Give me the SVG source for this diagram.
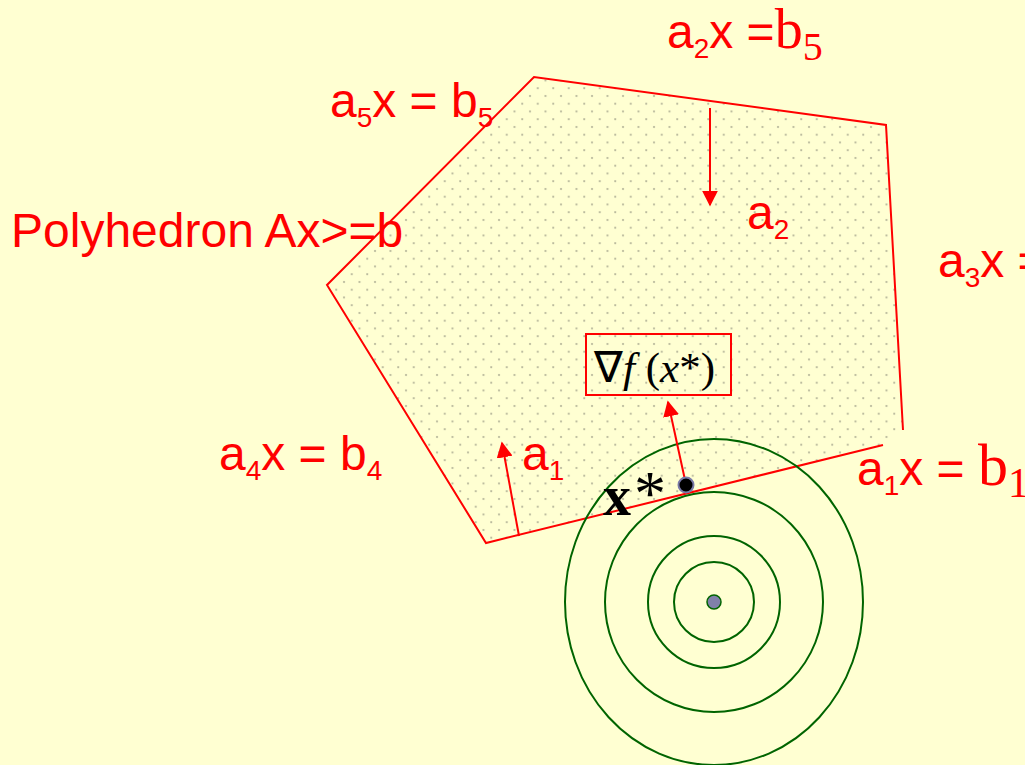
<svg xmlns="http://www.w3.org/2000/svg" width="1025" height="765" viewBox="0 0 1025 765">
<defs>
<pattern id="dots" patternUnits="userSpaceOnUse" width="15.5" height="15.5">
<circle cx="3" cy="3" r="1.1" fill="#b4b498"/>
<circle cx="10.75" cy="10.75" r="1.1" fill="#b4b498"/>
</pattern>
<marker id="ah" viewBox="0 0 10 10" refX="9" refY="5" markerWidth="16" markerHeight="16" markerUnits="userSpaceOnUse" orient="auto">
<path d="M0,0 L10,5 L0,10 z" fill="#ff0000"/>
</marker>
<style>
.lbl{font-family:"Liberation Sans",Arial,sans-serif;font-size:48px;fill:#ff0000}
.ser{font-family:"Liberation Serif","Times New Roman",serif;fill:#ff0000}
.sub{font-size:28px}
.edge{stroke:#ff0000;stroke-width:2;fill:none}
.ring{stroke:#006400;stroke-width:2;fill:none}
.vec{stroke:#ff0000;stroke-width:2;fill:none;marker-end:url(#ah)}
</style>
</defs>
<rect width="1025" height="765" fill="#ffffd2"/>
<g id="polyhedron">
<polygon points="534,77 886,125 903,430 883,445 486,543 327,285" fill="url(#dots)" stroke="none"/>
<polyline class="edge" points="903,430 886,125 534,77 327,285 486,543 883,445"/>
</g>
<g id="contours">
<ellipse class="ring" cx="714" cy="602" rx="149" ry="163"/>
<ellipse class="ring" cx="714" cy="602" rx="109" ry="110"/>
<circle class="ring" cx="714" cy="602" r="66"/>
<circle class="ring" cx="714" cy="602" r="40"/>
<circle cx="714" cy="602" r="7" fill="#8080aa" stroke="#006400" stroke-width="1.5"/>
</g>
<g id="connectors">
<line class="vec" x1="710" y1="108" x2="710" y2="205"/>
<line class="vec" x1="519" y1="536" x2="502" y2="443"/>
<line class="vec" x1="685" y1="480" x2="668" y2="402"/>
</g>
<g id="xstar">
<circle cx="686" cy="485" r="7.5" fill="#000000" stroke="#7a7aa8" stroke-width="2"/>
<text x="603" y="515" font-family="'Liberation Serif','Times New Roman',serif" font-size="56" fill="#000000"><tspan font-weight="bold">x</tspan><tspan dx="3" font-size="64">*</tspan></text>
</g>
<g id="gradient-box">
<rect x="586" y="334" width="145" height="61" fill="none" stroke="#ff0000" stroke-width="2"/>
<text x="594" y="382" font-family="'Liberation Serif','Times New Roman',serif" font-size="43" fill="#000000">∇<tspan font-style="italic">f</tspan> (<tspan font-style="italic">x</tspan>*)</text>
</g>
<g id="labels">
<text class="lbl" x="667" y="48">a<tspan class="sub" dy="10">2</tspan><tspan dy="-10">x =</tspan><tspan class="ser" font-size="56">b</tspan><tspan class="ser" font-size="40" dy="12">5</tspan></text>
<text class="lbl" x="330" y="117">a<tspan class="sub" dy="10">5</tspan><tspan dy="-10">x = b</tspan><tspan class="sub" dy="10">5</tspan></text>
<text class="lbl" x="11" y="247">Polyhedron Ax&gt;=b</text>
<text class="lbl" x="747" y="229">a<tspan class="sub" dy="10">2</tspan></text>
<text class="lbl" x="938" y="277">a<tspan class="sub" dy="10">3</tspan><tspan dy="-10">x =</tspan></text>
<text class="lbl" x="219" y="470">a<tspan class="sub" dy="10">4</tspan><tspan dy="-10">x = b</tspan><tspan class="sub" dy="10">4</tspan></text>
<text class="lbl" x="522" y="470">a<tspan class="sub" dy="10">1</tspan></text>
<text class="lbl" x="857" y="485">a<tspan class="sub" dy="10">1</tspan><tspan dy="-10">x = </tspan><tspan class="ser" font-size="60">b</tspan><tspan class="ser" font-size="42" dy="12">1</tspan></text>
</g>
</svg>
